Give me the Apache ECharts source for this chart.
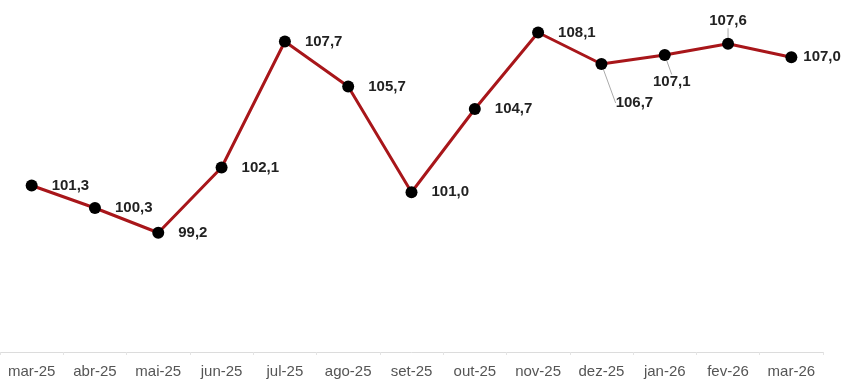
<!DOCTYPE html>
<html>
<head>
<meta charset="utf-8">
<script src="https://cdn.jsdelivr.net/npm/echarts@6/dist/echarts.min.js"></script>
<style>html,body{margin:0;padding:0;background:#fff}#c{width:849px;height:379px}</style>
</head>
<body>
<div id="c"></div>
<script>
const categories = ['mar-25','abr-25','mai-25','jun-25','jul-25','ago-25','set-25','out-25','nov-25','dez-25','jan-26','fev-26','mar-26'];
const values = [101.3, 100.3, 99.2, 102.1, 107.7, 105.7, 101.0, 104.7, 108.1, 106.7, 107.1, 107.6, 107.0];

// label placement per point (layout only)
const labelOffsets = [[0,2],[0,1],[0,6],[0,1],[0,1],[0,3],[0,3],[0,4],[0,2],null,null,null,[0,2]];
const guideMoves = {9:[33,39], 10:[7,27], 11:[0,-23]};

const chart = echarts.init(document.getElementById('c'));
const fmt = v => v.toFixed(1).replace('.', ',');
const seriesData = values.map((v, i) => {
  const item = { value: v };
  if (guideMoves[i]) {
    item.label = { position: 'inside', offset: [0,0] };
    item.labelLine = { show: true };
  } else {
    item.label = { position: 'right', distance: i === 12 ? 6 : 14, offset: labelOffsets[i] };
    item.labelLine = { show: false };
  }
  return item;
});

chart.setOption({
  animation: false,
  grid: { left: 0, right: 26, top: 1, bottom: 23, containLabel: false },
  xAxis: {
    type: 'category',
    data: categories,
    boundaryGap: true,
    axisLine: { show: true, lineStyle: { color: '#dcdcdc', width: 1 } },
    axisTick: { show: true, length: 3, lineStyle: { color: '#e4e4e4' } },
    axisLabel: { color: '#555', fontSize: 15, fontFamily: 'Liberation Sans, Arial, sans-serif', margin: 12 }
  },
  yAxis: {
    type: 'value', min: 93.9, max: 109.5, show: false,
    splitLine: { show: false }
  },
  series: [{
    type: 'line',
    data: seriesData,
    symbol: 'circle',
    symbolSize: 12,
    itemStyle: { color: '#000' },
    lineStyle: { color: '#a8161a', width: 3 },
    z: 2,
    label: {
      show: true,
      color: '#222',
      fontSize: 15,
      fontWeight: 'bold',
      fontFamily: 'Liberation Sans, Arial, sans-serif',
      formatter: p => fmt(p.value)
    },
    labelLine: { show: false, lineStyle: { color: '#aaa', width: 1 } },
    labelLayout: function (p) {
      const m = guideMoves[p.dataIndex];
      return m ? { dx: m[0], dy: m[1] } : {};
    }
  }]
});
</script>
</body>
</html>
